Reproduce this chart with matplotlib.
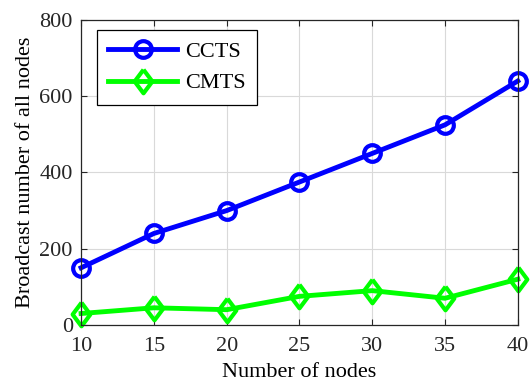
import matplotlib
matplotlib.use('Agg')
import matplotlib.pyplot as plt

# Data
nodes = [10, 15, 20, 25, 30, 35, 40]
ccts = [150, 240, 300, 375, 450, 525, 640]
cmts = [30, 45, 40, 75, 90, 70, 120]

plt.rcParams['font.family'] = ['Liberation Serif', 'DejaVu Serif']
plt.rcParams['font.size'] = 16

# MATLAB-style diamond, a bit taller than wide
diamond = [(0, 1), (0.75, 0), (0, -1), (-0.75, 0), (0, 1)]

fig = plt.figure(figsize=(5.3, 3.85), dpi=100)
ax = fig.add_axes([0.153, 0.156, 0.824, 0.792])

ax.plot(nodes, ccts, color='#0000ff', lw=3.5, marker='o', ms=12,
        mfc='none', mew=3, label='CCTS', clip_on=False)
ax.plot(nodes, cmts, color='#00ff00', lw=3.5, marker=diamond, ms=17,
        mfc='none', mew=3, label='CMTS', clip_on=False)

ax.set_xlim(10, 40)
ax.set_ylim(0, 800)
ax.set_xticks(range(10, 41, 5))
ax.set_yticks(range(0, 801, 200))
ax.grid(True, color='#d9d9d9', lw=0.8)
ax.set_axisbelow(True)
ax.tick_params(direction='in', top=True, right=True, colors='#262626',
               length=4, width=0.8)
ax.tick_params(axis='x', pad=9)
ax.tick_params(axis='y', pad=6)
for s in ax.spines.values():
    s.set_color('#262626')
    s.set_linewidth(0.9)

ax.set_xlabel('Number of nodes', labelpad=5)
ax.set_ylabel('Broadcast number of all nodes', labelpad=3)

leg = ax.legend(loc='upper left', bbox_to_anchor=(0.037, 0.967), borderaxespad=0,
                fancybox=False, edgecolor='black', framealpha=1,
                handlelength=3.1, borderpad=0.5, labelspacing=0.5,
                handletextpad=0.35)
leg.get_frame().set_linewidth(0.9)

fig.savefig('out.png', dpi=100)
